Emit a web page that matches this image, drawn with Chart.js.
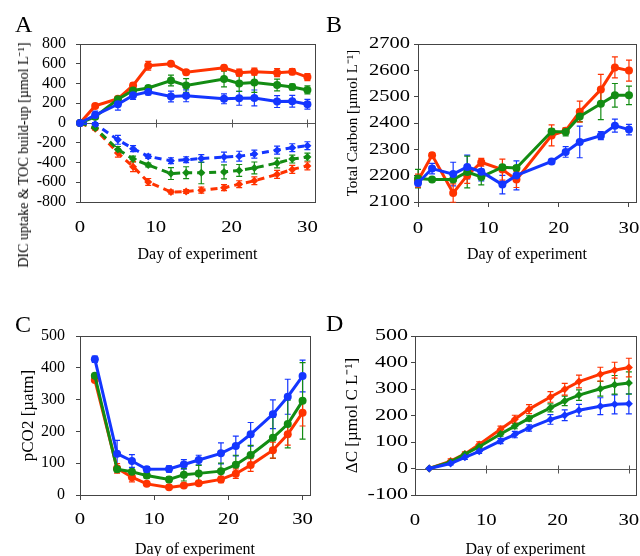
<!DOCTYPE html>
<html><head><meta charset="utf-8">
<script src="https://cdn.jsdelivr.net/npm/chart.js@4"></script>
<style>
html,body{margin:0;padding:0;background:#fff;overflow:hidden;width:640px;height:556px;}
#wrap{position:relative;width:640px;height:556px;overflow:hidden;font-family:'Liberation Serif','Times New Roman',serif;color:#000;}
canvas{position:absolute;}
.lbl{position:absolute;font-size:24px;line-height:24px;}
#ytA{position:absolute;left:24px;top:155px;transform:translate(-50%,-50%) rotate(-90deg);font-size:14px;line-height:14px;white-space:nowrap;}
</style></head>
<body><div id="wrap">
<canvas id="cA" width="320" height="280" style="left:0;top:0;width:320px;height:280px"></canvas>
<canvas id="cB" width="320" height="280" style="left:320px;top:0;width:320px;height:280px"></canvas>
<canvas id="cC" width="320" height="300" style="left:0;top:280px;width:320px;height:300px"></canvas>
<canvas id="cD" width="320" height="300" style="left:320px;top:280px;width:320px;height:300px"></canvas>
<div class="lbl" style="left:15px;top:12px">A</div>
<div class="lbl" style="left:326px;top:12px">B</div>
<div class="lbl" style="left:15px;top:312px">C</div>
<div class="lbl" style="left:326px;top:311px">D</div>
<div id="ytA">DIC uptake &amp; TOC build-up [µmol L⁻¹]</div>
</div>
<script>
const FONT = "'Liberation Serif','Times New Roman',serif";
const BLUE = '#1436ff', GREEN = '#138c13', RED = '#ff3300';
const xTicks = [0, 10, 20, 30];

// Panel A
const daysTOC = [0,2,5,7,9,12,14,19,21,23,26,28,30];
const daysDIC = [0,2,5,7,9,12,14,16,19,21,23,26,28,30];
const tocBlue  = [0,80,190,280,315,268,275,245,250,254,217,220,190];
const tocGreen = [0,64,240,330,355,430,380,445,400,410,385,365,335];
const tocRed   = [0,173,245,380,580,600,515,560,510,520,510,520,465];
const tocBlueErr  = [0,40,60,40,30,55,60,50,70,80,60,60,50];
const tocGreenErr = [0,20,20,30,25,55,70,80,80,100,60,30,40];
const tocRedErr   = [0,15,20,25,45,20,25,25,35,35,40,30,35];
const dicBlue  = [0,-10,-170,-260,-338,-382,-372,-360,-345,-336,-315,-275,-250,-230];
const dicGreen = [0,-50,-268,-365,-425,-512,-503,-505,-495,-480,-455,-405,-365,-345];
const dicRed   = [0,-58,-305,-442,-597,-699,-694,-680,-655,-620,-585,-520,-470,-435];
const dicBlueErr  = [0,15,45,30,20,30,30,40,50,50,40,40,40,40];
const dicGreenErr = [0,15,30,30,20,60,60,110,70,60,60,50,40,40];
const dicRedErr   = [0,15,40,50,35,20,20,30,30,35,40,40,40,40];
const yTicksA = [-800,-600,-400,-200,0,200,400,600,800];

// Panel B
const daysB = [0,2,5,7,9,12,14,19,21,23,26,28,30];
const tcBlue  = [2172,2227,2206,2233,2215,2166,2201,2254,2290,2328,2352,2390,2375];
const tcGreen = [2189,2185,2185,2214,2195,2232,2229,2368,2366,2425,2473,2505,2505];
const tcRed   = [2181,2278,2134,2201,2251,2223,2185,2353,2371,2443,2527,2611,2599];
const tcBlueErr  = [15,20,45,45,35,35,55,8,20,60,15,25,20];
const tcGreenErr = [35,8,8,60,30,8,8,10,15,20,60,45,35];
const tcRedErr   = [25,10,35,30,15,40,30,40,10,40,58,40,40];
const yTicksB = [2100,2200,2300,2400,2500,2600,2700];

// Panel C
const daysC = [2,5,7,9,12,14,16,19,21,23,26,28,30];
const pco2Blue  = [427,130,107,81,82,96,110,131,154,191,254,309,374];
const pco2Green = [375,81,73,61,49,64,68,75,95,126,180,223,296];
const pco2Red   = [362,84,56,35,24,30,37,49,67,94,141,191,259];
const pco2BlueErr  = [10,42,20,8,10,15,15,33,31,37,45,55,50];
const pco2GreenErr = [5,8,8,8,8,20,25,25,30,30,65,75,120];
const pco2RedErr   = [5,15,15,5,5,5,5,10,15,20,25,34,42];
const yTicksC = [0,100,200,300,400,500];

// Panel D
const daysD = [2,5,7,9,12,14,16,19,21,23,26,28,30];
const dcBlue  = [0,19,42,65,104,128,153,185,201,220,235,242,244];
const dcGreen = [0,25,54,82,130,160,189,229,255,277,301,316,323];
const dcRed   = [0,28,55,91,148,186,224,270,299,328,356,371,381];
const dcBlueErr  = [0,5,8,8,10,12,12,18,20,22,32,36,38];
const dcGreenErr = [0,5,5,8,8,10,10,15,18,20,28,35,42];
const dcRedErr   = [0,8,8,10,12,15,17,20,22,24,26,30,35];
const yTicksD = [-100,0,100,200,300,400,500];

const framePlugin = {
  id: 'panelFrame',
  beforeDatasetsDraw(chart, args, o) {
    const {ctx, chartArea: a, scales} = chart;
    ctx.save();
    ctx.setLineDash([]);
    ctx.strokeStyle = '#444'; ctx.lineWidth = 1;
    ctx.strokeRect(Math.round(a.left) + 0.5, Math.round(a.top) + 0.5,
                   Math.round(a.right - a.left), Math.round(a.bottom - a.top));
    if (o.zeroLine) {
      const y0 = Math.round(scales.y.getPixelForValue(0)) + 0.5;
      ctx.strokeStyle = '#555';
      ctx.beginPath();
      ctx.moveTo(a.left, y0); ctx.lineTo(a.right, y0);
      xTicks.forEach(v => {
        if (v === 0) return;
        const x = Math.round(scales.x.getPixelForValue(v)) + 0.5;
        ctx.moveTo(x, y0 - 4); ctx.lineTo(x, y0 + 4);
      });
      ctx.stroke();
    }
    chart.data.datasets.forEach((ds, i) => {
      if (!ds.errors) return;
      const meta = chart.getDatasetMeta(i);
      ctx.strokeStyle = ds.borderColor; ctx.lineWidth = 1.2;
      ctx.beginPath();
      meta.data.forEach((pt, j) => {
        const e = ds.errors[j]; if (!e) return;
        const v = ds.data[j].y;
        const yt = scales.y.getPixelForValue(v + e), yb = scales.y.getPixelForValue(v - e);
        ctx.moveTo(pt.x, yt); ctx.lineTo(pt.x, yb);
        ctx.moveTo(pt.x - 3, yt); ctx.lineTo(pt.x + 3, yt);
        ctx.moveTo(pt.x - 3, yb); ctx.lineTo(pt.x + 3, yb);
      });
      ctx.stroke();
    });
    ctx.restore();
  }
};

// widen tick-label glyphs horizontally (reference labels are horizontally stretched)
function stretchLabels(s, sx) {
  if (s._stretched || sx === 1) return;
  s._stretched = true;
  const orig = s.drawLabels.bind(s);
  s.drawLabels = function(ca) {
    const ctx = this.ctx;
    const rot = CanvasRenderingContext2D.prototype.rotate;
    ctx.rotate = function(a) { rot.call(ctx, a); ctx.scale(sx, 1); };
    try { orig(ca); } finally { delete ctx.rotate; }
  };
}

function series(days, values, errors, color, marker, dash) {
  return {
    data: days.map((d, k) => ({x: d, y: values[k]})),
    errors: errors,
    borderColor: color, backgroundColor: color,
    pointBackgroundColor: color, pointBorderColor: color,
    pointStyle: marker, pointRadius: 4, pointBorderWidth: 0,
    borderWidth: 3, borderDash: dash || [], tension: 0, clip: false, fill: false
  };
}

function makeChart(id, cfg) {
  new Chart(document.getElementById(id), {
    type: 'line',
    data: {datasets: cfg.datasets},
    options: {
      responsive: false, animation: false, events: [],
      layout: {padding: {left: 0, top: cfg.padTop, right: cfg.padRight, bottom: 0}},
      plugins: {legend: {display: false}, tooltip: {enabled: false},
                panelFrame: {zeroLine: cfg.zeroLine}},
      scales: {
        x: {
          type: 'linear', min: 0, max: 31,
          afterBuildTicks: s => { s.ticks = xTicks.map(v => ({value: v})); },
          afterFit: s => { s.height = cfg.xH; s.paddingLeft = 0; s.paddingRight = 0; stretchLabels(s, cfg.xStretch); },
          grid: {display: cfg.xTickMarks, drawOnChartArea: false, drawTicks: cfg.xTickMarks, tickLength: 5, color: '#444'},
          border: {display: false},
          ticks: {font: {family: FONT, size: 16}, color: '#000', padding: cfg.xPad, maxRotation: 0, autoSkip: false,
                  callback: v => String(v)},
          title: {display: true, text: 'Day of experiment', font: {family: FONT, size: 16}, color: '#000',
                  padding: {top: 0, bottom: cfg.xTitlePad}}
        },
        y: {
          type: 'linear', min: cfg.yTicks[0], max: cfg.yTicks[cfg.yTicks.length - 1],
          afterBuildTicks: s => { s.ticks = cfg.yTicks.map(v => ({value: v})); },
          afterFit: s => { s.width = cfg.yW; s.paddingTop = 0; s.paddingBottom = 0; stretchLabels(s, cfg.yStretch); },
          grid: {drawOnChartArea: false, drawTicks: true, tickLength: 4, color: '#444'},
          border: {display: false},
          ticks: {font: {family: FONT, size: 16}, color: '#000', padding: cfg.yPad, autoSkip: false,
                  callback: v => String(v)},
          title: cfg.yTitle ? {display: true, text: cfg.yTitle, font: {family: FONT, size: cfg.yTitleSize}, color: '#000',
                  padding: {top: cfg.yTitlePad, bottom: 0}} : {display: false}
        }
      }
    },
    plugins: [framePlugin]
  });
}

makeChart('cA', {
  datasets: [
    series(daysTOC, tocBlue, tocBlueErr, BLUE, 'circle'),
    series(daysTOC, tocGreen, tocGreenErr, GREEN, 'circle'),
    series(daysTOC, tocRed, tocRedErr, RED, 'circle'),
    series(daysDIC, dicBlue, dicBlueErr, BLUE, 'rectRot', [7, 5]),
    series(daysDIC, dicGreen, dicGreenErr, GREEN, 'rectRot', [7, 5]),
    series(daysDIC, dicRed, dicRedErr, RED, 'rectRot', [7, 5])
  ],
  yTicks: yTicksA, padTop: 44, padRight: 5, yW: 80, xH: 78,
  xTickMarks: false, xPad: 16.4, xTitlePad: 15.4, yPad: 10, zeroLine: true,
  xStretch: 1.3, yStretch: 1
});

makeChart('cB', {
  datasets: [
    series(daysB, tcBlue, tcBlueErr, BLUE, 'circle'),
    series(daysB, tcGreen, tcGreenErr, GREEN, 'circle'),
    series(daysB, tcRed, tcRedErr, RED, 'circle')
  ],
  yTicks: yTicksB, padTop: 44, padRight: 2, yW: 98, xH: 78,
  xTickMarks: true, xPad: 12.4, xTitlePad: 15.4, yPad: 4, zeroLine: false,
  yTitle: 'Total Carbon [µmol L⁻¹]', yTitleSize: 15, yTitlePad: 24.3,
  xStretch: 1.3, yStretch: 1.28
});

makeChart('cC', {
  datasets: [
    series(daysC, pco2Blue, pco2BlueErr, BLUE, 'circle'),
    series(daysC, pco2Green, pco2GreenErr, GREEN, 'circle'),
    series(daysC, pco2Red, pco2RedErr, RED, 'circle')
  ],
  yTicks: yTicksC, padTop: 56, padRight: 10, yW: 80, xH: 85,
  xTickMarks: true, xPad: 10.4, xTitlePad: 20.4, yPad: 11, zeroLine: false,
  yTitle: 'pCO2 [µatm]', yTitleSize: 17, yTitlePad: 18.8,
  xStretch: 1.3, yStretch: 1
});

makeChart('cD', {
  datasets: [
    series(daysD, dcBlue, dcBlueErr, BLUE, 'rectRot'),
    series(daysD, dcGreen, dcGreenErr, GREEN, 'rectRot'),
    series(daysD, dcRed, dcRedErr, RED, 'rectRot')
  ],
  yTicks: yTicksD, padTop: 56, padRight: 3, yW: 95, xH: 85,
  xTickMarks: false, xPad: 16.4, xTitlePad: 20.4, yPad: 3, zeroLine: true,
  yTitle: 'ΔC [µmol C L⁻¹]', yTitleSize: 17, yTitlePad: 22.6,
  xStretch: 1.3, yStretch: 1.38
});
</script>
</body></html>
